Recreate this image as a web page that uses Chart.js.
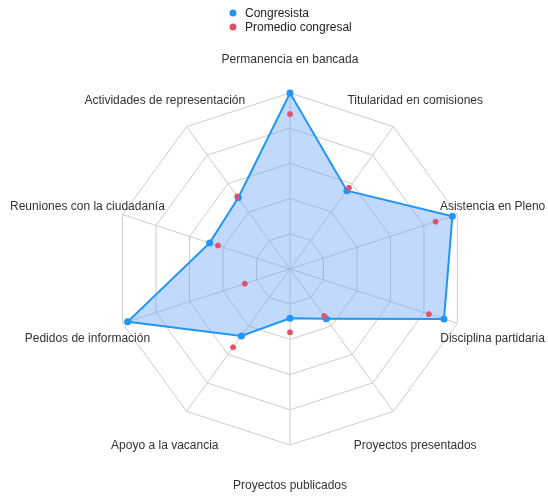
<!DOCTYPE html>
<html>
<head>
<meta charset="utf-8">
<script src="https://cdn.jsdelivr.net/npm/chart.js@4"></script>
<style>
  html, body { margin: 0; padding: 0; background: #fff; }
  #wrap { width: 548px; height: 498px; }
</style>
</head>
<body>
<div id="wrap"><canvas id="radar"></canvas></div>
<script>
const categorias = [
    'Permanencia en bancada',
    'Titularidad en comisiones',
    'Asistencia en Pleno',
    'Disciplina partidaria',
    'Proyectos presentados',
    'Proyectos publicados',
    'Apoyo a la vacancia',
    'Pedidos de información',
    'Reuniones con la ciudadanía',
    'Actividades de representación'
]
const congresista = [100, 55, 97, 92, 35, 28, 47, 97, 48, 50]
const promedio = [88, 57, 87, 83, 33, 36, 55, 27, 43, 51]

const azul = '#2196f3'
const rojo = 'rgb(226, 80, 105)'
const fuente = '12px "Liberation Sans", Arial, sans-serif'

const radar = document.getElementById('radar')

// etiquetas centradas alrededor del radar + leyenda en columna
const etiquetas = {
    id: 'etiquetas',
    afterDraw(chart) {
        const ctx = chart.ctx
        const r = chart.scales.r
        ctx.save()
        ctx.font = fuente
        ctx.fillStyle = '#333'
        ctx.textAlign = 'center'
        ctx.textBaseline = 'middle'
        chart.data.labels.forEach((txt, i) => {
            const p = r.getPointPosition(i, r.drawingArea + 37)
            ctx.fillText(txt, p.x, p.y + 4)
        })

        ctx.textAlign = 'left'
        chart.data.datasets.forEach((ds, i) => {
            const y = 13 + i * 14
            ctx.beginPath()
            ctx.arc(233, y, 3.5, 0, Math.PI * 2)
            ctx.fillStyle = ds.pointBackgroundColor
            ctx.fill()
            ctx.fillStyle = '#222'
            ctx.fillText(ds.label, 245, y + 1)
        })
        ctx.restore()
    }
}

new Chart(radar, {
    type: 'radar',
    data: {
        labels: categorias,
        datasets: [{
            label: 'Congresista',
            data: congresista,
            order: 1,
            borderColor: azul,
            backgroundColor: 'rgba(100, 160, 250, 0.4)',
            pointBackgroundColor: azul,
            pointBorderColor: azul,
            borderWidth: 2,
            pointRadius: 2.5,
            fill: true
        }, {
            label: 'Promedio congresal',
            data: promedio,
            order: 0,
            borderColor: rojo,
            backgroundColor: rojo,
            pointBackgroundColor: rojo,
            pointBorderColor: rojo,
            showLine: false,
            fill: false,
            pointRadius: 2.5
        }]
    },
    options: {
        responsive: true,
        maintainAspectRatio: false,
        animation: false,
        layout: {
            padding: { left: 32, right: 0, top: 93, bottom: 53 }
        },
        plugins: {
            legend: { display: false },
            tooltip: { enabled: false }
        },
        scales: {
            r: {
                min: 0,
                max: 100,
                ticks: { stepSize: 20, display: false },
                grid: { color: '#cccccc' },
                angleLines: { color: '#cccccc' },
                pointLabels: { display: false }
            }
        }
    },
    plugins: [etiquetas]
})
</script>
</body>
</html>
